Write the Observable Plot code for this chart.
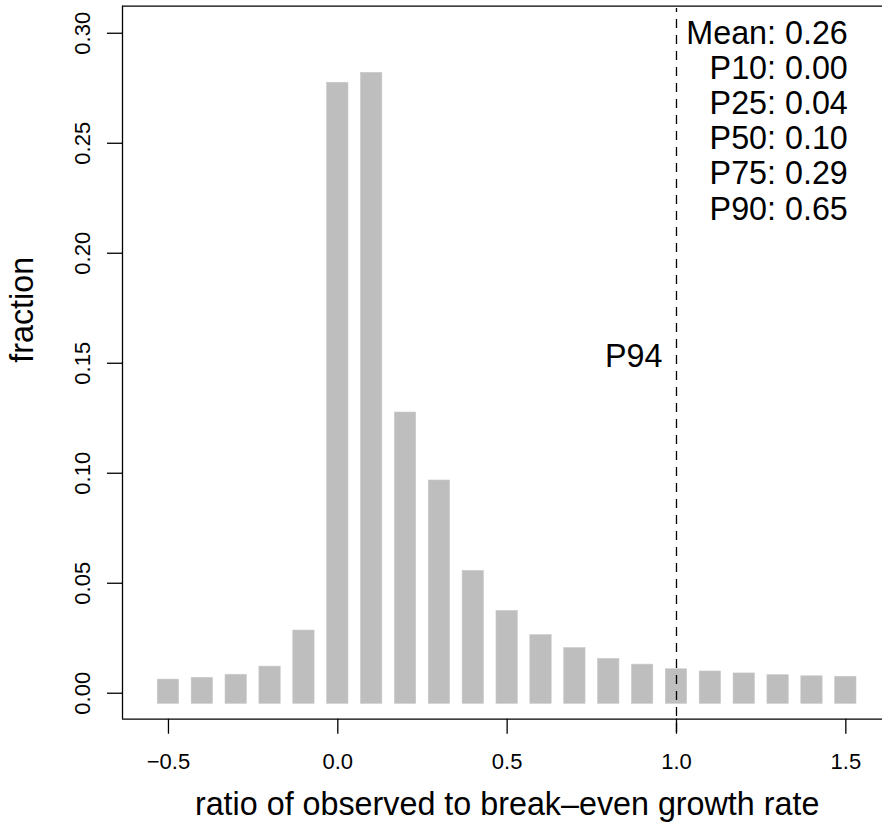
<!DOCTYPE html>
<html>
<head>
<meta charset="utf-8">
<script src="https://cdn.jsdelivr.net/npm/d3@7"></script>
<script src="https://cdn.jsdelivr.net/npm/@observablehq/plot@0.6"></script>
<style>
  html, body { margin: 0; padding: 0; background: #ffffff; overflow: hidden; }
  #chart { width: 882px; height: 831px; overflow: hidden; position: relative; }
  #chart svg { max-width: none !important; height: 831px !important; display: block; }
</style>
</head>
<body>
<div id="chart"></div>
<script>
// ---- data ----
const binCenters = [-0.5, -0.4, -0.3, -0.2, -0.1, 0.0, 0.1, 0.2, 0.3, 0.4, 0.5,
                    0.6, 0.7, 0.8, 0.9, 1.0, 1.1, 1.2, 1.3, 1.4, 1.5];
const fractions  = [0.0014, 0.0022, 0.0036, 0.0073, 0.0237, 0.2727, 0.2772, 0.1228, 0.0919, 0.0508, 0.0326,
                    0.0216, 0.0157, 0.0108, 0.0082, 0.0061, 0.0051, 0.0042, 0.0034, 0.0029, 0.0027];
const xTicks = [-0.5, 0.0, 0.5, 1.0, 1.5];
const yTicks = [0.00, 0.05, 0.10, 0.15, 0.20, 0.25, 0.30];
const statNames  = ["Mean", "P10", "P25", "P50", "P75", "P90"];
const statValues = [0.26, 0.00, 0.04, 0.10, 0.29, 0.65];
const markerValue = 1.0;
const markerLabel = "P94";
const markerLabelY = 0.15;
const xTitle = "ratio of observed to break\u2013even growth rate";
const yTitle = "fraction";

// ---- styling constants ----
const xDomain = [-0.6357, 1.6357];   // plot region runs past the right edge of the picture
const yDomain = [-0.0118, 0.3123];
const plotWidth = 891.3;
const barHalfWidth = 0.0315;   // half bar width in x units
const capPad = 0.0048;         // square line-end overhang in y units
const bigFont = 32.3;
const ink = "#000000";

const bars = binCenters.map((c, i) => ({c, v: fractions[i]}));
const statsText = statNames.map((n, i) => `${n}: ${statValues[i].toFixed(2)}`).join("\n");

const chart = Plot.plot({
  width: plotWidth,
  height: 831,
  marginLeft: 122,
  marginRight: 0,
  marginTop: 5.7,
  marginBottom: 112.3,
  style: {fontFamily: "'Liberation Sans', Arial, Helvetica, sans-serif", fontSize: "22px", background: "#ffffff", color: ink},
  x: {domain: xDomain},
  y: {domain: yDomain},
  marks: [
    Plot.rect(bars, {
      x1: d => d.c - barHalfWidth, x2: d => d.c + barHalfWidth,
      y1: -capPad, y2: d => d.v + capPad,
      fill: "#bebebe", stroke: "#c8c8c8", strokeWidth: 0.6
    }),
    // box lines
    Plot.ruleX([xDomain[0]], {stroke: ink, strokeWidth: 1.3}),
    Plot.ruleX([xDomain[1]], {stroke: ink, strokeWidth: 1.3}),
    Plot.ruleY([yDomain[1]], {stroke: ink, strokeWidth: 1.3}),
    Plot.ruleY([yDomain[0]], {stroke: ink, strokeWidth: 1.3}),
    Plot.axisX(xTicks, {
      tickSize: 15, tickPadding: 19.6, strokeWidth: 1.3, label: null,
      tickFormat: d => d3.format(".1f")(d), fontSize: 22
    }),
    Plot.axisY(yTicks, {
      tickSize: 15, tickPadding: 17, tickRotate: -90, strokeWidth: 1.3, label: null,
      tickFormat: d => d3.format(".2f")(d), fontSize: 22
    }),
    Plot.ruleX([markerValue], {y1: -0.0179, y2: 0.3112, stroke: ink, strokeWidth: 1.3, strokeDasharray: "9,7"}),
    Plot.text([markerLabel], {
      x: markerValue, y: markerLabelY, text: d => d,
      textAnchor: "end", lineAnchor: "bottom", dx: -14, dy: 4, fontSize: bigFont, fill: ink
    }),
    Plot.text([statsText], {
      x: 1.5, frameAnchor: "top", text: d => d, textAnchor: "end", lineAnchor: "top",
      lineHeight: 35.2 / bigFont, dx: 2, dy: 12.5, fontSize: bigFont, fill: ink
    }),
    Plot.text([xTitle], {
      x: 0.5, frameAnchor: "bottom", text: d => d, lineAnchor: "bottom",
      dy: 96.3, fontSize: bigFont, fill: ink
    }),
    Plot.text([yTitle], {
      frameAnchor: "left", text: d => d, rotate: -90, lineAnchor: "bottom",
      dx: -89, fontSize: bigFont, fill: ink
    })
  ]
});
document.getElementById("chart").appendChild(chart);
</script>
</body>
</html>
